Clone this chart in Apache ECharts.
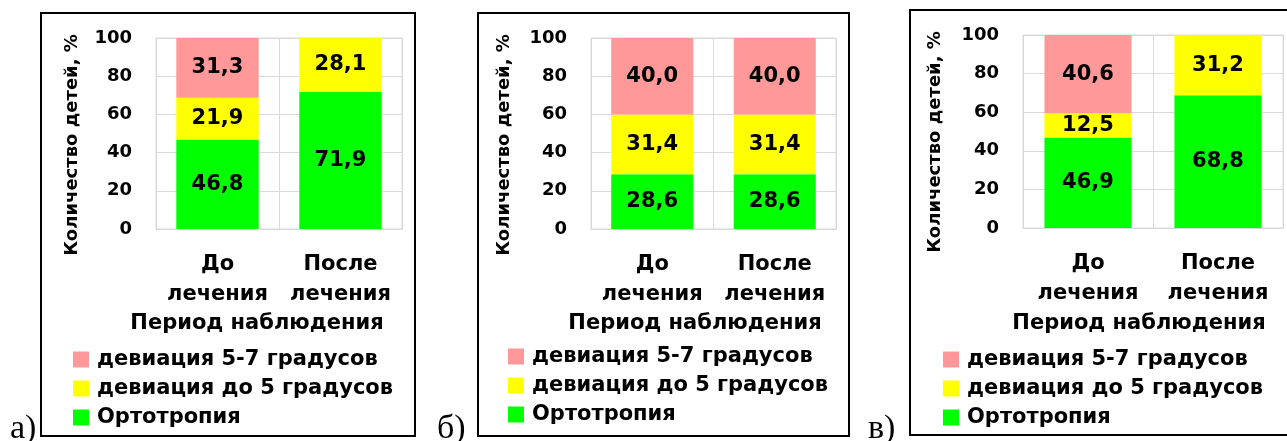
<!DOCTYPE html>
<html>
<head>
<meta charset="utf-8">
<script src="https://cdn.jsdelivr.net/npm/echarts@6/dist/echarts.min.js"></script>
<style>
  html, body { margin: 0; padding: 0; background: #fff; }
  #chart { width: 1287px; height: 441px; }
</style>
</head>
<body>
<div id="chart"></div>
<script>
// categories and series names
const categories = ["До\nлечения", "После\nлечения"];
const seriesNames = ["Ортотропия", "девиация до 5 градусов", "девиация 5-7 градусов"];
const legendOrder = ["девиация 5-7 градусов", "девиация до 5 градусов", "Ортотропия"];
const colors = ["#00ff00", "#ffff00", "#ff9999"];
const yTicks = [0, 20, 40, 60, 80, 100];

// panel а)
const orthoA = [46.8, 71.9];
const dev5A = [21.9, 28.1];
const dev57A = [31.3, 0];
// panel б)
const orthoB = [28.6, 28.6];
const dev5B = [31.4, 31.4];
const dev57B = [40.0, 40.0];
// panel в)
const orthoC = [46.9, 68.8];
const dev5C = [12.5, 31.2];
const dev57C = [40.6, 0];

const panelLabels = ["а)", "б)", "в)"];
const panelData = [
  [orthoA, dev5A, dev57A],
  [orthoB, dev5B, dev57B],
  [orthoC, dev5C, dev57C],
];

// layout per panel
const panels = [
  { grid: { left: 156, top: 38, width: 246, height: 191 }, box: [41, 13, 374, 423], yName: [72, 145], xName: [257, 324], legend: [73, 349], tag: [10, 446] },
  { grid: { left: 591, top: 38, width: 245, height: 191 }, box: [478, 13, 371, 423], yName: [504, 145], xName: [695, 324], legend: [508, 346], tag: [437, 446] },
  { grid: { left: 1023, top: 35, width: 260, height: 193 }, box: [910, 10, 400, 425], yName: [935, 142], xName: [1139, 324], legend: [943, 349], tag: [868, 446] },
];

const FONT = "DejaVu Sans";
const gridColor = "#d9d9d9";

const chart = echarts.init(document.getElementById("chart"), null, { renderer: "canvas" });

const grids = [], xAxes = [], yAxes = [], series = [], legends = [], graphics = [];

panels.forEach((p, i) => {
  grids.push(Object.assign({ show: true, borderColor: gridColor, borderWidth: 1, backgroundColor: "transparent" }, p.grid));
  xAxes.push({
    type: "category",
    gridIndex: i,
    data: categories,
    axisLine: { lineStyle: { color: gridColor } },
    axisTick: { show: false },
    splitLine: { show: true, lineStyle: { color: gridColor } },
    axisLabel: { color: "#000", fontFamily: FONT, fontWeight: "bold", fontSize: 21, lineHeight: 30, margin: 21, interval: 0 },
  });
  yAxes.push({
    type: "value",
    gridIndex: i,
    min: yTicks[0],
    max: yTicks[yTicks.length - 1],
    interval: 20,
    axisLine: { show: false },
    axisTick: { show: false },
    splitLine: { lineStyle: { color: gridColor } },
    axisLabel: { color: "#000", fontFamily: FONT, fontWeight: "bold", fontSize: 18, margin: 24 },
  });
  seriesNames.forEach((name, k) => {
    series.push({
      name: name,
      type: "bar",
      xAxisIndex: i,
      yAxisIndex: i,
      stack: "p" + i,
      barWidth: "67%",
      data: panelData[i][k],
      itemStyle: { color: colors[k] },
      label: {
        show: true,
        position: "inside",
        color: "#000",
        fontFamily: FONT,
        fontWeight: "bold",
        fontSize: 21,
        formatter: (d) => (d.value ? d.value.toFixed(1).replace(".", ",") : ""),
      },
    });
  });
  legends.push({
    data: legendOrder,
    orient: "vertical",
    left: p.legend[0],
    top: p.legend[1],
    padding: 0,
    itemGap: 8,
    itemWidth: 16,
    itemHeight: 16,
    icon: "rect",
    selectedMode: false,
    textStyle: { color: "#000", fontFamily: FONT, fontWeight: "bold", fontSize: 21, lineHeight: 21, padding: [0, 0, 0, 3] },
  });
  graphics.push({
    type: "rect",
    shape: { x: p.box[0], y: p.box[1], width: p.box[2], height: p.box[3] },
    style: { fill: "none", stroke: "#000", lineWidth: 2 },
    z: 0,
  });
  graphics.push({
    type: "text",
    x: p.yName[0],
    y: p.yName[1],
    rotation: Math.PI / 2,
    style: { text: "Количество детей, %", fill: "#000", font: "bold 18px '" + FONT + "'", textAlign: "center", textVerticalAlign: "middle" },
  });
  graphics.push({
    type: "text",
    x: p.xName[0],
    y: p.xName[1],
    style: { text: "Период наблюдения", fill: "#000", font: "bold 21px '" + FONT + "'", textAlign: "center", textVerticalAlign: "middle" },
  });
  graphics.push({
    type: "text",
    x: p.tag[0],
    y: p.tag[1],
    style: { text: panelLabels[i], fill: "#000", font: "34px 'Liberation Serif'", textAlign: "left", textVerticalAlign: "bottom" },
  });
});

chart.setOption({
  animation: false,
  backgroundColor: "#fff",
  grid: grids,
  xAxis: xAxes,
  yAxis: yAxes,
  legend: legends,
  series: series,
  graphic: graphics,
});
</script>
</body>
</html>
